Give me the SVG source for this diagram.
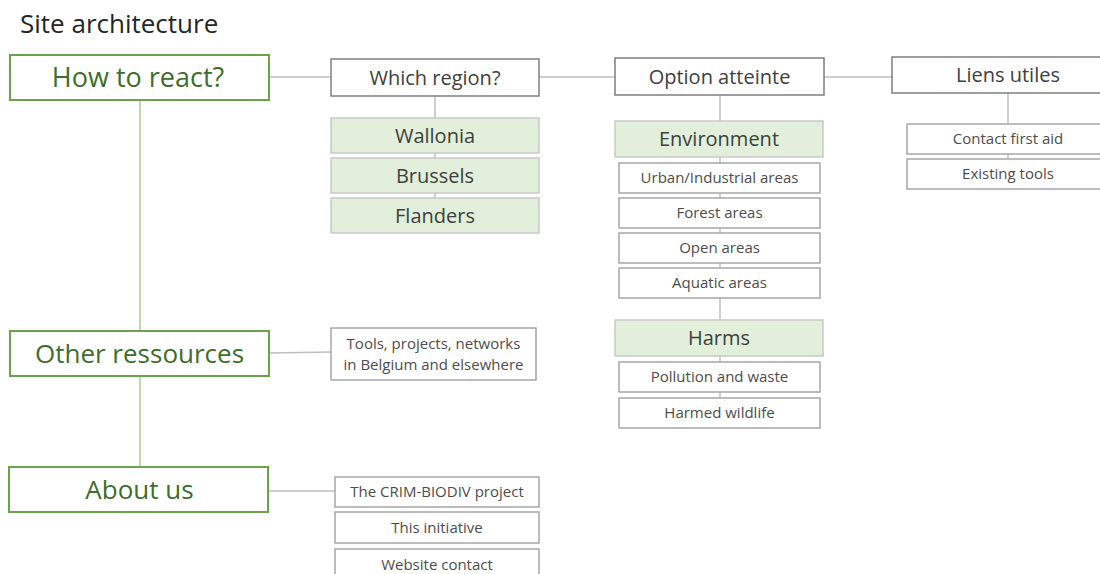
<svg xmlns="http://www.w3.org/2000/svg" width="1100" height="574" viewBox="0 0 1100 574">
<style>
text{font-family:"Open Sans","Liberation Sans",sans-serif;text-anchor:middle;fill:#404040}
.title{text-anchor:start;font-size:26px;fill:#262626}
.main rect{fill:#fff;stroke:#6BA34A;stroke-width:2}
.main text{font-size:26px;fill:#3E6E2C}
.hdr rect{fill:#fff;stroke:#7F7F7F;stroke-width:1.5}
.hdr text{font-size:20px}
.grn rect{fill:#E2EFDA;stroke:#C9C9C9;stroke-width:1.5}
.grn text{font-size:20px}
.sub rect{fill:#fff;stroke:#A6A6A6;stroke-width:1.5}
.sub text{font-size:15px;fill:#4D4D4D}
.c line{stroke:#BFBFBF;stroke-width:1.5}
.c line.g{stroke:#A9D18E}
</style>
<rect width="1100" height="574" fill="#fff"/>
<text class="title" x="20" y="33">Site architecture</text>
<g id="connectors" class="c">
<line class="g" x1="140" y1="100" x2="140" y2="467"/>
<line x1="269" y1="77" x2="331" y2="77"/>
<line x1="539" y1="77" x2="615" y2="77"/>
<line x1="824" y1="77" x2="892" y2="77"/>
<line x1="435" y1="96" x2="435" y2="233"/>
<line x1="720" y1="95" x2="720" y2="428"/>
<line x1="1008" y1="93" x2="1008" y2="189"/>
<line x1="269" y1="353" x2="331" y2="352"/>
<line x1="268" y1="491" x2="335" y2="491"/>
</g>
<g id="how" class="main"><rect x="10" y="55" width="259" height="45"/><text x="138" y="87" style="font-size:27px">How to react?</text></g>
<g id="other" class="main"><rect x="10" y="331" width="259" height="45"/><text x="139.5" y="362.5">Other ressources</text></g>
<g id="about" class="main"><rect x="9" y="467" width="259" height="45"/><text x="139.5" y="498.5">About us</text></g>
<g id="region" class="hdr"><rect x="331" y="59" width="208" height="37"/><text x="435" y="84.5">Which region?</text></g>
<g id="option" class="hdr"><rect x="615" y="58" width="209" height="37"/><text x="719.5" y="83.5">Option atteinte</text></g>
<g id="liens" class="hdr"><rect x="892" y="57" width="220" height="36"/><text x="1008" y="82">Liens utiles</text></g>
<g id="wallonia" class="grn"><rect x="331" y="118" width="208" height="35"/><text x="435" y="142.5">Wallonia</text></g>
<g id="brussels" class="grn"><rect x="331" y="158" width="208" height="35"/><text x="435" y="182.5">Brussels</text></g>
<g id="flanders" class="grn"><rect x="331" y="198" width="208" height="35"/><text x="435" y="222.5">Flanders</text></g>
<g id="environment" class="grn"><rect x="615" y="121" width="208" height="36"/><text x="719" y="146">Environment</text></g>
<g id="urban" class="sub"><rect x="619" y="163" width="201" height="30"/><text x="719.5" y="183.3">Urban/Industrial areas</text></g>
<g id="forest" class="sub"><rect x="619" y="198" width="201" height="30"/><text x="719.5" y="218.3">Forest areas</text></g>
<g id="open" class="sub"><rect x="619" y="233" width="201" height="30"/><text x="719.5" y="253.3">Open areas</text></g>
<g id="aquatic" class="sub"><rect x="619" y="268" width="201" height="30"/><text x="719.5" y="288.3">Aquatic areas</text></g>
<g id="harms" class="grn"><rect x="615" y="320" width="208" height="36"/><text x="719" y="345">Harms</text></g>
<g id="pollution" class="sub"><rect x="619" y="362" width="201" height="30"/><text x="719.5" y="382.3">Pollution and waste</text></g>
<g id="wildlife" class="sub"><rect x="619" y="398" width="201" height="30"/><text x="719.5" y="418.3">Harmed wildlife</text></g>
<g id="contact" class="sub"><rect x="907" y="124" width="205" height="30"/><text x="1008" y="144.3">Contact first aid</text></g>
<g id="existing" class="sub"><rect x="907" y="159" width="205" height="30"/><text x="1008" y="179.3">Existing tools</text></g>
<g id="tools" class="sub"><rect x="331" y="328" width="205" height="52"/><text x="433.5" y="349">Tools, projects, networks</text><text x="433.5" y="370">in Belgium and elsewhere</text></g>
<g id="crim" class="sub"><rect x="335" y="477" width="204" height="30"/><text x="437" y="497.3">The CRIM-BIODIV project</text></g>
<g id="initiative" class="sub"><rect x="335" y="512" width="204" height="31"/><text x="437" y="532.8">This initiative</text></g>
<g id="website" class="sub"><rect x="335" y="549" width="204" height="31"/><text x="437" y="569.8">Website contact</text></g>
</svg>
